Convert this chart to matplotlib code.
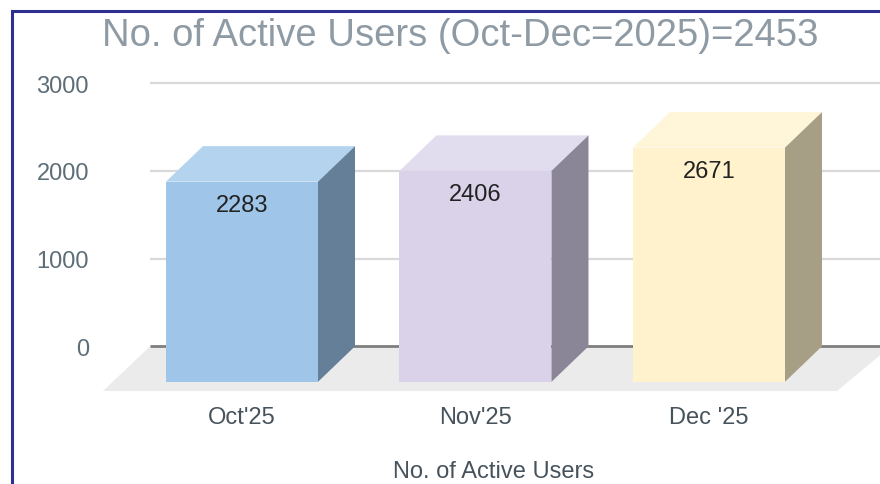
import numpy as np
import matplotlib
matplotlib.use('Agg')
import matplotlib.pyplot as plt
from matplotlib.patches import Polygon, Rectangle

# ══════════════════════════════════════════════════════════
# DATA
# ══════════════════════════════════════════════════════════
meses   = ["Oct'25", "Nov'25", "Dec '25"]
usuarios = [2283, 2406, 2671]
titulo  = "No. of Active Users (Oct-Dec=2025)=2453"
y_ticks = [0, 1000, 2000, 3000]

# colours per bar: front / top / side
C_FRONT = ['#9FC5E8', '#D9D2E9', '#FFF2CC']
C_TOP   = ['#B4D3EE', '#E2DCEF', '#FFF5D8']
C_SIDE  = ['#667F99', '#8A8697', '#A69F86']

# pseudo-3D geometry (in data units)
ANCHO = 0.651     # bar width
DDX   = 0.1585    # depth, x
DDY   = 405       # depth, y
SUELO = 510       # floor depth (y)

plt.rcParams['font.family'] = ['Liberation Sans', 'DejaVu Sans']

fig = plt.figure(figsize=(8.8, 4.85), dpi=100)
fig.patch.set_facecolor('white')

W, H = 880, 485
ax = fig.add_axes([100 / W, 1 - 400 / H, 780 / W, 340 / H])
ax.set_xlim(-0.7666, 2.574)
ax.set_ylim(-601, 3277)
ax.set_facecolor('none')
for s in ax.spines.values():
    s.set_visible(False)

x = np.arange(len(usuarios))
x_ini, x_fin = -0.552, 2.574

# ── floor ───────────────────────────────────────────────
ax.add_patch(Polygon([(x_ini, 0), (2.62, 0), (2.39, -SUELO), (-0.754, -SUELO)],
                     closed=True, facecolor='#EBEBEB', edgecolor='none', zorder=1))

# ── gridlines ───────────────────────────────────────────
ax.hlines(y_ticks[1:], x_ini, x_fin, colors='#D9D9D9', lw=1.6, zorder=0)
ax.hlines(0, x_ini, x_fin, colors='#7F7F7F', lw=2.0, zorder=2)

# ── bars ────────────────────────────────────────────────
ax.bar(x - DDX, usuarios, width=ANCHO, bottom=-DDY, color=C_FRONT, zorder=5)
for i, v in enumerate(usuarios):
    xl = x[i] - DDX - ANCHO / 2
    xr = x[i] - DDX + ANCHO / 2
    top = [(xl, v - DDY), (xr, v - DDY), (xr + DDX, v), (xl + DDX, v)]
    side = [(xr, -DDY), (xr + DDX, 0), (xr + DDX, v), (xr, v - DDY)]
    ax.add_patch(Polygon(top, closed=True, facecolor=C_TOP[i], edgecolor='none', zorder=4))
    ax.add_patch(Polygon(side, closed=True, facecolor=C_SIDE[i], edgecolor='none', zorder=4))
    ax.annotate(f'{v}', xy=(x[i] - DDX, v - DDY), xytext=(0, -17),
                textcoords='offset points', ha='center', va='center',
                fontsize=17, color='#222222', zorder=6)

# ── axes text ───────────────────────────────────────────
ax.set_yticks(y_ticks)
ax.set_yticklabels([str(t) for t in y_ticks])
ax.tick_params(axis='y', length=0, pad=8, labelsize=17, labelcolor='#5E6E78')
ax.set_xticks(x - DDX)
ax.set_xticklabels(meses)
ax.tick_params(axis='x', length=0, pad=5, labelsize=17, labelcolor='#46535C')
ax.set_xlabel('No. of Active Users', fontsize=17, color='#46535C')
ax.xaxis.set_label_coords(394 / 780, -61 / 340)

fig.text(460 / W, 1 - 36 / H, titulo, ha='center', va='center',
         fontsize=27.5, color='#8F9BA4')

# navy frame (left and top)
fig.add_artist(Rectangle((11.5 / W, -0.05), 1.2, 1 - 12 / H + 0.05,
                         transform=fig.transFigure, fill=False,
                         edgecolor='#2E2F8F', lw=2.2))

plt.savefig('out.png', dpi=100, facecolor='white')
plt.close()
